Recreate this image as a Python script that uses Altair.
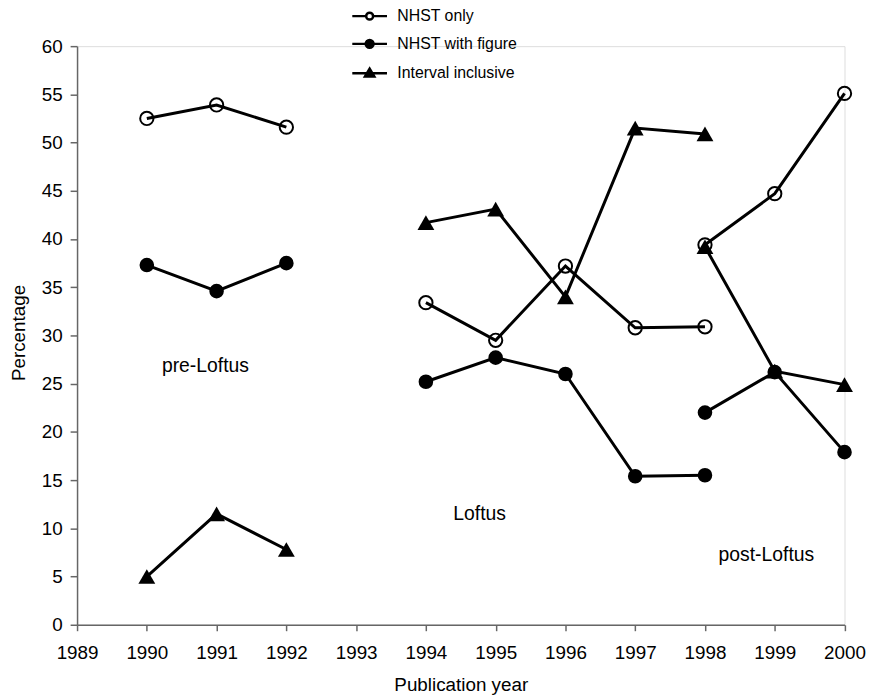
import altair as alt
import pandas as pd

# ---- data ----
years_pre = [1990, 1991, 1992]
years_loftus = [1994, 1995, 1996, 1997, 1998]
years_post = [1998, 1999, 2000]

series_names = ["NHST only", "NHST with figure", "Interval inclusive"]

nhst_only_pre = [52.5, 53.9, 51.6]
nhst_only_loftus = [33.4, 29.5, 37.2, 30.8, 30.9]
nhst_only_post = [39.4, 44.7, 55.1]

nhst_fig_pre = [37.3, 34.6, 37.5]
nhst_fig_loftus = [25.2, 27.7, 26.0, 15.4, 15.5]
nhst_fig_post = [22.0, 26.2, 17.9]

interval_pre = [5.0, 11.5, 7.8]
interval_loftus = [41.7, 43.1, 34.0, 51.5, 50.9]
interval_post = [39.2, 26.3, 24.9]

period_labels = ["pre-Loftus", "Loftus", "post-Loftus"]
period_label_year = [1990.84, 1994.77, 1998.88]
period_label_value = [26.8, 11.5, 7.2]

x_ticks = list(range(1989, 2001))
y_ticks = list(range(0, 61, 5))

# ---- build long table ----
rows = []
series_values = {
    "NHST only": [nhst_only_pre, nhst_only_loftus, nhst_only_post],
    "NHST with figure": [nhst_fig_pre, nhst_fig_loftus, nhst_fig_post],
    "Interval inclusive": [interval_pre, interval_loftus, interval_post],
}
segments = [("pre", years_pre), ("loftus", years_loftus), ("post", years_post)]
for s in series_names:
    for (seg, yrs), vals in zip(segments, series_values[s]):
        for yr, v in zip(yrs, vals):
            rows.append({"year": yr, "value": v, "series": s, "segment": seg,
                         "group": s + "|" + seg})
df = pd.DataFrame(rows)
ann = pd.DataFrame({"label": period_labels, "year": period_label_year,
                    "value": period_label_value})

FONT = "Liberation Sans"
FS = 19

x_enc = alt.X(
    "year:Q",
    scale=alt.Scale(domain=[1989, 2000], nice=False, zero=False),
    axis=alt.Axis(values=x_ticks, format="d", title="Publication year", grid=False,
                  tickSize=6, labelPadding=13, labelFontSize=FS, titleFontSize=FS,
                  titleFontWeight="normal", labelColor="black", titleColor="black",
                  domainColor="#666", tickColor="#666", domainWidth=1.5, tickWidth=1.5,
                  labelFlush=False, labelOverlap=False,
                  titleY=66, titleBaseline="alphabetic", labelFont=FONT, titleFont=FONT),
)
y_enc = alt.Y(
    "value:Q",
    scale=alt.Scale(domain=[0, 60], nice=False),
    axis=alt.Axis(values=y_ticks, title="Percentage", grid=False, tickSize=7,
                  labelPadding=8, labelFontSize=FS, titleFontSize=FS,
                  titleFontWeight="normal", labelColor="black", titleColor="black",
                  domainColor="#666", tickColor="#666", domainWidth=1.5, tickWidth=1.5,
                  labelFlush=False, labelOverlap=False,
                  titleX=-52.7, titleY=289, titleBaseline="alphabetic",
                  labelFont=FONT, titleFont=FONT),
)

base = alt.Chart(df)

lines = base.mark_line(color="black", strokeWidth=3).encode(
    x=x_enc, y=y_enc, detail="group:N", order="year:Q"
)

tri = base.transform_filter(alt.datum.series == "Interval inclusive").mark_point(
    shape="triangle-up", size=289, filled=True, color="black", opacity=1
).encode(x="year:Q", y="value:Q")

fill_circ = base.transform_filter(alt.datum.series == "NHST with figure").mark_point(
    shape="circle", size=217, filled=True, color="black", opacity=1
).encode(x="year:Q", y="value:Q")

open_circ = base.transform_filter(alt.datum.series == "NHST only").mark_point(
    shape="circle", size=180, filled=False, color="black", strokeWidth=2, opacity=1
).encode(x="year:Q", y="value:Q")

# legend symbols: line with marker, drawn as custom paths
p_open = ("M-1.556,0L-0.311,0M0.311,0A0.311,0.311,0,1,0,-0.311,0"
          "A0.311,0.311,0,1,0,0.311,0M0.311,0L1.556,0")
p_fill = ("M-1.556,0L-0.356,0M0.356,0A0.356,0.356,0,1,0,-0.356,0"
          "A0.356,0.356,0,1,0,0.356,0ZM0.356,0L1.556,0")
p_tri = "M-1.556,0.05L1.556,0.05M0,-0.36L0.42,0.34L-0.42,0.34Z"

leg = alt.Legend(title=None, orient="none", legendX=282.8, legendY=-42.8,
                 labelFontSize=16, labelFont=FONT, labelColor="black",
                 symbolSize=506, symbolStrokeWidth=2.5,
                 symbolOpacity=1, labelOffset=15.5, rowPadding=7, padding=0,
                 symbolOffset=0)

legend_layer = base.transform_filter("false").mark_point(
    opacity=1, strokeWidth=2.5
).encode(
    x="year:Q", y="value:Q",
    shape=alt.Shape("series:N", scale=alt.Scale(domain=series_names,
                                                range=[p_open, p_fill, p_tri]),
                    legend=leg),
    fill=alt.Fill("series:N", scale=alt.Scale(domain=series_names,
                                              range=["white", "black", "black"]),
                  legend=leg),
    stroke=alt.Stroke("series:N", scale=alt.Scale(domain=series_names,
                                                  range=["black", "black", "black"]),
                      legend=leg),
)

labels = alt.Chart(ann).mark_text(fontSize=19.5, font=FONT, color="black",
                                  align="center", baseline="middle").encode(
    x="year:Q", y="value:Q", text="label:N"
)

chart = alt.layer(lines, tri, fill_circ, open_circ, labels, legend_layer).properties(
    width=774.6, height=584,
    autosize=alt.AutoSizeParams(type="none"),
    padding={"left": 69.7, "top": 35.3, "right": 22.7, "bottom": 69.0},
).configure_view(stroke=None).configure(font=FONT, background="white")

chart.save("out.html", embed_options={"renderer": "svg", "actions": False})
